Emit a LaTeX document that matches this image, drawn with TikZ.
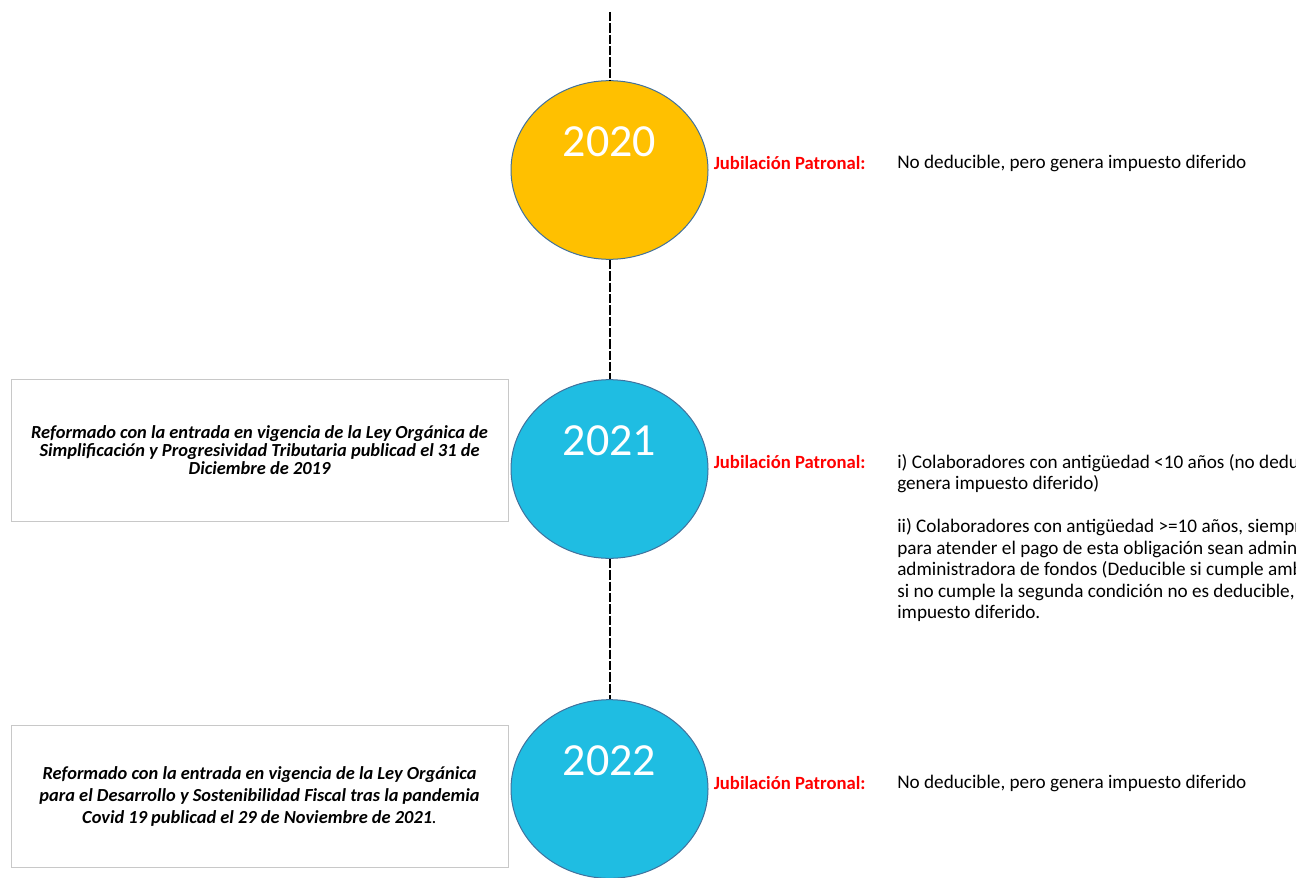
\documentclass[tikz,border=0pt]{standalone}
\usepackage{fontspec}
\setmainfont{Carlito}
\usetikzlibrary{positioning,shapes.geometric}
\definecolor{gold}{HTML}{FFC000}
\definecolor{sky}{HTML}{1FBDE2}
\definecolor{rim}{HTML}{41719C}
\definecolor{boxline}{HTML}{C8C8C8}
\definecolor{jubred}{HTML}{FF0000}
\begin{document}
\begin{tikzpicture}[x=0.75pt,y=-0.75pt,
year/.style={ellipse,draw=rim,line width=0.75pt,minimum width=147.75pt,minimum height=134pt,inner sep=0pt},
yeartext/.style={text=white,font=\fontsize{34.5}{40}\selectfont,inner sep=0pt},
link/.style={draw=black,line width=1.5pt,dash pattern=on 7pt off 1.5pt},
jub/.style={text=jubred,font=\fontsize{14}{16}\selectfont\bfseries,inner sep=0pt,anchor=west},
note/.style={font=\fontsize{14.4}{16.1}\selectfont,inner sep=0pt,align=left},
lawbox/.style={draw=boxline,line width=0.6pt,minimum width=372.75pt,minimum height=106.5pt,align=center}]
\useasboundingbox (0,0) rectangle (1301,877);
\node[year,fill=gold] (c2020) at (609.5,170) {};
\node[year,fill=sky] (c2021) at (609.5,469) {};
\node[year,fill=sky] (c2022) at (609.5,789) {};
\node[yeartext] (y2020) at ([yshift=21pt]c2020.center) {2020};
\node[yeartext] (y2021) at ([yshift=21pt]c2021.center) {2021};
\node[yeartext] (y2022) at ([yshift=21pt]c2022.center) {2022};
\coordinate (top) at (609.5,12);
\draw[link] (top) -- (c2020.north);
\draw[link] (c2020.south) -- (c2021.north);
\draw[link] (c2021.south) -- (c2022.north);
\node[jub,right=3.75pt of c2020.east,yshift=5pt] (j2020) {Jubilación Patronal:};
\node[jub,right=3.75pt of c2021.east,yshift=5pt] (j2021) {Jubilación Patronal:};
\node[jub,right=3.75pt of c2022.east,yshift=4.5pt] (j2022) {Jubilación Patronal:};
\node[note,anchor=west] (n2020) at (897,163) {No deducible, pero genera impuesto diferido};
\node[note,anchor=west] (n2022) at (897,783) {No deducible, pero genera impuesto diferido};
\begin{scope}
\clip (0,0) rectangle (1295,877);
\node[note,anchor=north west] (n2021) at (897,454) {i) Colaboradores con antigüedad <10 años (no deducible, pero\\
genera impuesto diferido)\\[16.1pt]
ii) Colaboradores con antigüedad >=10 años, siempre que los fondos\\
para atender el pago de esta obligación sean administrados por una\\
administradora de fondos (Deducible si cumple ambas condiciones),\\
si no cumple la segunda condición no es deducible, pero genera\\
impuesto diferido.};
\end{scope}
\node[lawbox,font=\fontsize{13.8}{13.5}\selectfont\bfseries\itshape] (law2021) at (259.5,450) {Reformado con la entrada en vigencia de la Ley Orgánica de\\
Simplificación y Progresividad Tributaria publicad el 31 de\\
Diciembre de 2019};
\node[lawbox,font=\fontsize{13.8}{16.5}\selectfont\bfseries\itshape] (law2022) at (259.5,796) {Reformado con la entrada en vigencia de la Ley Orgánica\\
para el Desarrollo y Sostenibilidad Fiscal tras la pandemia\\
Covid 19 publicad el 29 de Noviembre de 2021{\mdseries.}};
\end{tikzpicture}
\end{document}
